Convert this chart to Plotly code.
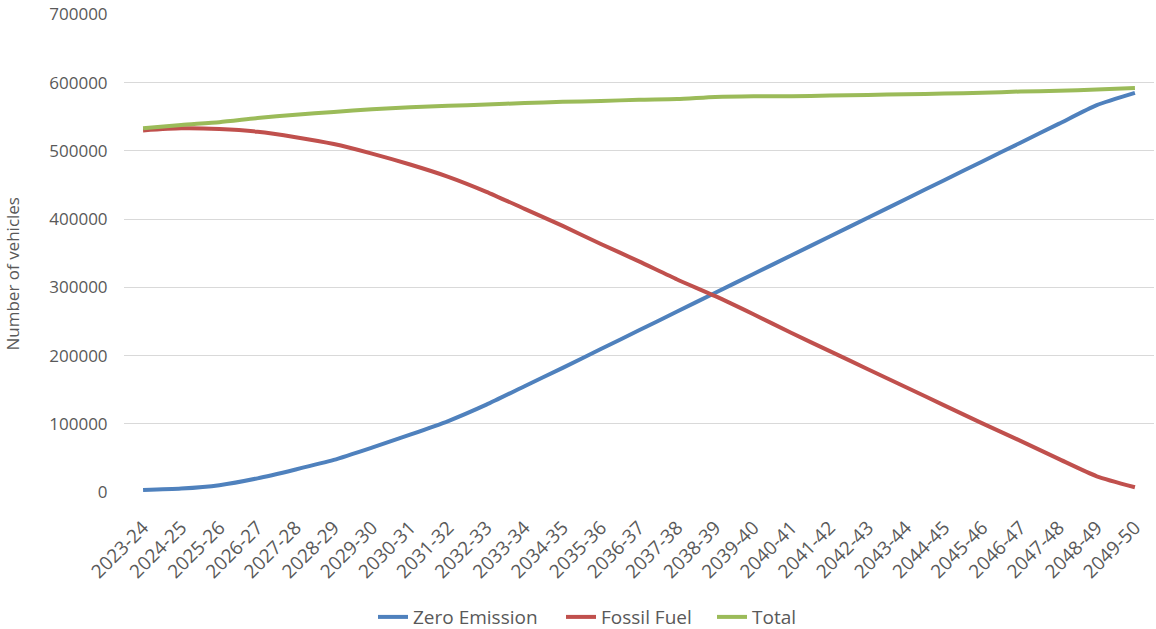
import plotly.graph_objects as go

# Financial years on the category axis
years = [
    "2023-24", "2024-25", "2025-26", "2026-27", "2027-28", "2028-29", "2029-30",
    "2030-31", "2031-32", "2032-33", "2033-34", "2034-35", "2035-36", "2036-37",
    "2037-38", "2038-39", "2039-40", "2040-41", "2041-42", "2042-43", "2043-44",
    "2044-45", "2045-46", "2046-47", "2047-48", "2048-49", "2049-50",
]

# Fleet size by fuel type (number of vehicles)
zero_emission = [
    3000, 5000, 10000, 20000, 33000, 47000, 65000, 84000, 104000, 128000,
    155000, 182000, 209500, 237000, 264500, 292000, 319500, 347000, 374500,
    402000, 429500, 457000, 484500, 512000, 539500, 567000, 585000,
]
fossil_fuel = [
    530000, 533000, 532000, 528000, 520000, 510000, 496000, 480000, 462000,
    440000, 415000, 390000, 363500, 338000, 311500, 287000, 260500, 233000,
    206500, 180000, 153500, 127000, 100500, 75000, 48500, 23000, 7000,
]
total = [
    533000, 538000, 542000, 548000, 553000, 557000, 561000, 564000, 566000,
    568000, 570000, 572000, 573000, 575000, 576000, 579000, 580000, 580000,
    581000, 582000, 583000, 584000, 585000, 587000, 588000, 590000, 592000,
]

y_ticks = [0, 100000, 200000, 300000, 400000, 500000, 600000, 700000]

grey_text = "#595959"
font_family = "Open Sans, Segoe UI, sans-serif"

fig = go.Figure()
# Each series gets its own legend box so the entries can be spaced freely
series = [
    ("Zero Emission", zero_emission, "#4F81BD", "legend", 373),
    ("Fossil Fuel", fossil_fuel, "#C0504D", "legend2", 561),
    ("Total", total, "#9BBB59", "legend3", 712),
]
legend_boxes = {}
for name, values, color, legend_id, left_px in series:
    fig.add_trace(go.Scatter(
        x=years, y=values, name=name, mode="lines", legend=legend_id,
        line=dict(color=color, width=4, shape="spline", smoothing=0.6),
    ))
    legend_boxes[legend_id] = dict(
        orientation="h", xref="container", yref="container",
        x=left_px / 1156, xanchor="left", y=0.019, yanchor="middle",
        font=dict(size=19, color=grey_text), itemwidth=30,
        bgcolor="rgba(0,0,0,0)", borderwidth=0,
    )

fig.update_layout(
    width=1156, height=629,
    margin=dict(l=124, r=2, t=12, b=137),
    paper_bgcolor="white", plot_bgcolor="white",
    font=dict(family=font_family, color=grey_text, size=16),
    showlegend=True,
    xaxis=dict(
        type="category", range=[-0.5, 26.5],
        tickangle=-45, showgrid=False, zeroline=False, showline=False,
        tickfont=dict(size=19, color=grey_text),
        ticks="outside", ticklen=16, tickcolor="rgba(0,0,0,0)",
    ),
    yaxis=dict(
        range=[0, 700600], tickvals=y_ticks,
        ticktext=[str(v) for v in y_ticks],
        showgrid=True, gridcolor="#D9D9D9", gridwidth=1.3,
        zeroline=False, showline=False,
        tickfont=dict(size=17, color=grey_text),
        ticks="outside", ticklen=12, tickcolor="rgba(0,0,0,0)",
    ),
    annotations=[dict(
        text="Number of vehicles", textangle=-90,
        xref="paper", yref="paper", x=(13 - 124) / 1030, y=0.455,
        xanchor="center", yanchor="middle", showarrow=False,
        font=dict(size=17, color=grey_text),
    )],
)
fig.update_layout(**legend_boxes)

fig.write_html("out.html")
